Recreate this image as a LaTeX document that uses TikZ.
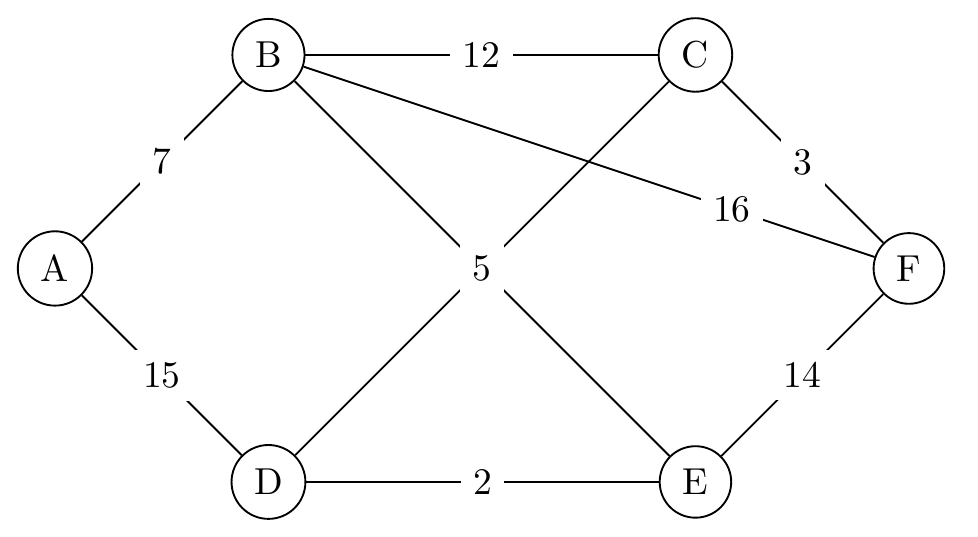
\documentclass[tikz,border=0pt]{standalone}
\begin{document}
\begin{tikzpicture}[
  vertex/.style={circle,draw,line width=0.5pt},
  wlabel/.style={fill=white},
  edge/.style={line width=0.5pt}]
\useasboundingbox (-0.515,-2.515) rectangle (8.647,2.515);
\node[vertex] (A) at (0,0) {A};
\node[vertex] (B) at (2,2) {B};
\node[vertex] (C) at (6,2) {C};
\node[vertex] (D) at (2,-2) {D};
\node[vertex] (E) at (6,-2) {E};
\node[vertex] (F) at (8,0) {F};
\draw[edge] (C) -- (D);
\draw[edge] (B) -- (F) node[wlabel,pos=0.75] (l16) {16};
\draw[edge] (A) -- (B) node[wlabel,midway] (l7) {7};
\draw[edge] (A) -- (D) node[wlabel,midway] (l15) {15};
\draw[edge] (B) -- (C) node[wlabel,midway] (l12) {12};
\draw[edge] (C) -- (F) node[wlabel,midway] (l3) {3};
\draw[edge] (D) -- (E) node[wlabel,midway] (l2) {2};
\draw[edge] (E) -- (F) node[wlabel,midway] (l14) {14};
\draw[edge] (B) -- (E) node[wlabel,midway] (l5) {5};
\end{tikzpicture}
\end{document}
